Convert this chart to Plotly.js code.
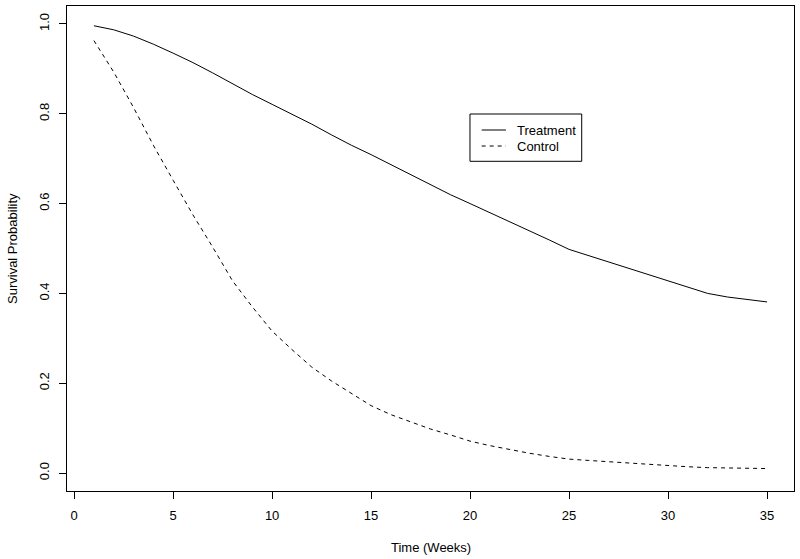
<!DOCTYPE html>
<html>
<head>
<meta charset="utf-8">
<script src="https://cdn.plot.ly/plotly-3.0.1.min.js"></script>
<style>html,body{margin:0;padding:0;background:#fff;}#chart{width:800px;height:559px;}</style>
</head>
<body>
<div id="chart"></div>
<script>
// Treatment arm: survival probability by week
const treatmentWeeks = [1,2,3,4,5,6,7,8,9,10,11,12,13,14,15,16,17,18,19,20,21,22,23,24,25,32,33,34,35];
const treatmentSurv = [0.996,0.987,0.973,0.955,0.935,0.914,0.891,0.867,0.843,0.821,0.799,0.777,0.753,0.730,0.709,0.687,0.665,0.642,0.620,0.600,0.580,0.560,0.539,0.519,0.498,0.400,0.392,0.386,0.381];
// Control arm: survival probability by week
const controlWeeks = [1,2,3,4,5,6,7,8,9,10,11,12,13,14,15,16,17,18,19,20,21,22,23,24,25,26,27,28,29,30,31,32,33,34,35];
const controlSurv = [0.963,0.893,0.814,0.730,0.652,0.575,0.503,0.428,0.370,0.316,0.275,0.236,0.205,0.177,0.150,0.130,0.114,0.098,0.085,0.071,0.061,0.052,0.044,0.037,0.031,0.028,0.025,0.022,0.019,0.016,0.014,0.012,0.011,0.010,0.010];
const xTicks = [0,5,10,15,20,25,30,35];
const yTicks = [0.0,0.2,0.4,0.6,0.8,1.0];
const yTickText = ["0.0","0.2","0.4","0.6","0.8","1.0"];
const seriesNames = ["Treatment","Control"];

const fontFam = "Liberation Sans, Arial, Helvetica, sans-serif";

const traces = [
  {x: treatmentWeeks, y: treatmentSurv, type: "scatter", mode: "lines", name: seriesNames[0],
   line: {color: "#000", width: 1}},
  {x: controlWeeks, y: controlSurv, type: "scatter", mode: "lines", name: seriesNames[1],
   line: {color: "#000", width: 1, dash: "4px,4px"}}
];

// legend drawn in paper coordinates (R-style legend box)
const lg = {x0: 0.5543, x1: 0.7080, y0: 0.6798, y1: 0.7773,
            lx0: 0.5704, lx1: 0.6038, tx: 0.6160, rows: [0.7443, 0.7113]};

const shapes = [
  {type: "rect", xref: "paper", yref: "paper", x0: lg.x0, x1: lg.x1, y0: lg.y0, y1: lg.y1,
   line: {color: "#000", width: 1}, fillcolor: "#fff", layer: "above"},
  {type: "line", xref: "paper", yref: "paper", x0: lg.lx0, x1: lg.lx1, y0: lg.rows[0], y1: lg.rows[0],
   line: {color: "#000", width: 1}, layer: "above"},
  {type: "line", xref: "paper", yref: "paper", x0: lg.lx0, x1: lg.lx1, y0: lg.rows[1], y1: lg.rows[1],
   line: {color: "#000", width: 1, dash: "4px,4px"}, layer: "above"}
];

const layout = {
  width: 800, height: 559,
  margin: {l: 67, r: 6, t: 6, b: 68, pad: 0},
  paper_bgcolor: "#fff", plot_bgcolor: "#fff",
  font: {family: fontFam, size: 13, color: "#000"},
  showlegend: false,
  xaxis: {range: [-0.36, 36.36], tickvals: xTicks, ticktext: xTicks.map(String),
          ticks: "outside", ticklen: 7, tickcolor: "#000", tickwidth: 1,
          ticklabelstandoff: 5,
          showgrid: false, zeroline: false, showline: true, mirror: true,
          linecolor: "#000", linewidth: 1,
          tickfont: {family: fontFam, size: 13, color: "#000"}},
  yaxis: {range: [-0.04, 1.04], tickvals: yTicks, ticktext: yTickText,
          ticks: "outside", ticklen: 7, tickcolor: "#000", tickwidth: 1,
          tickangle: -90, ticklabelstandoff: 5,
          showgrid: false, zeroline: false, showline: true, mirror: true,
          linecolor: "#000", linewidth: 1,
          tickfont: {family: fontFam, size: 13, color: "#000"}},
  shapes: shapes,
  annotations: [
    {text: "Time (Weeks)", xref: "paper", yref: "paper", x: 0.5, y: -0.116,
     xanchor: "center", yanchor: "middle", showarrow: false,
     font: {family: fontFam, size: 13, color: "#000"}},
    {text: "Survival Probability", xref: "paper", yref: "paper", x: -0.075, y: 0.5,
     xanchor: "center", yanchor: "middle", textangle: -90, showarrow: false,
     font: {family: fontFam, size: 13, color: "#000"}},
    {text: seriesNames[0], xref: "paper", yref: "paper", x: lg.tx, y: lg.rows[0],
     xanchor: "left", yanchor: "middle", showarrow: false,
     font: {family: fontFam, size: 13, color: "#000"}},
    {text: seriesNames[1], xref: "paper", yref: "paper", x: lg.tx, y: lg.rows[1],
     xanchor: "left", yanchor: "middle", showarrow: false,
     font: {family: fontFam, size: 13, color: "#000"}}
  ]
};

Plotly.newPlot("chart", traces, layout, {displayModeBar: false, staticPlot: true});
</script>
</body>
</html>
